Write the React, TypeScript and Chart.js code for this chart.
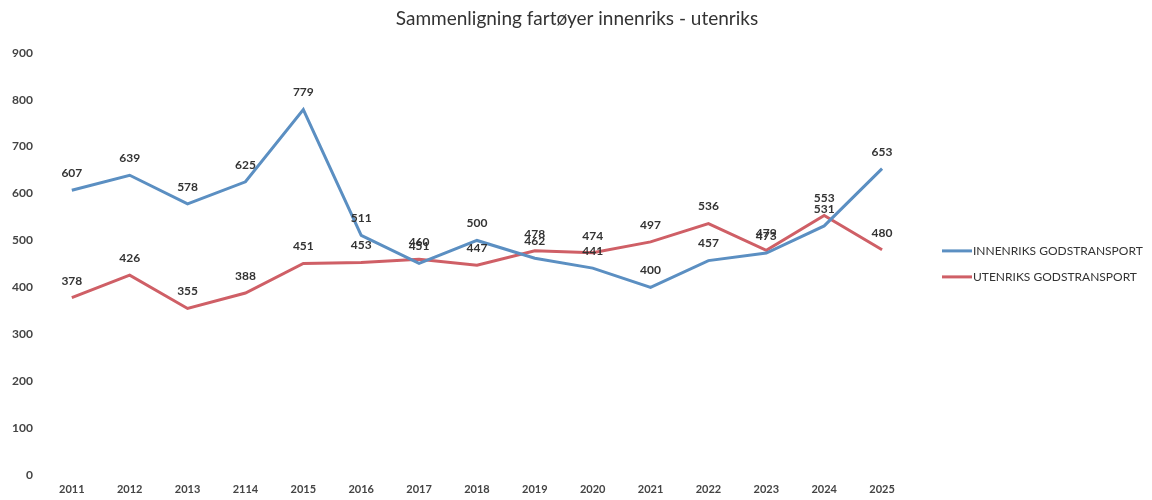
import React, { useEffect, useRef } from "react";
import { Chart, registerables } from "chart.js";

Chart.register(...registerables);

const years = ["2011", "2012", "2013", "2114", "2015", "2016", "2017", "2018", "2019", "2020", "2021", "2022", "2023", "2024", "2025"];
const innenriks = [607, 639, 578, 625, 779, 511, 451, 500, 462, 441, 400, 457, 473, 531, 653];
const utenriks = [378, 426, 355, 388, 451, 453, 460, 447, 478, 474, 497, 536, 479, 553, 480];
const yTicks = [0, 100, 200, 300, 400, 500, 600, 700, 800, 900];

const FONT = "Lato, 'Open Sans', sans-serif";

const valueLabels = {
  id: "valueLabels",
  afterDatasetsDraw(chart: any) {
    const ctx = chart.ctx;
    ctx.save();
    ctx.font = `bold 12px ${FONT}`;
    ctx.fillStyle = "#333333";
    ctx.textAlign = "center";
    ctx.textBaseline = "bottom";
    chart.data.datasets.forEach((ds: any, i: number) => {
      const meta = chart.getDatasetMeta(i);
      meta.data.forEach((pt: any, j: number) => {
        ctx.fillText(String(ds.data[j]), pt.x, pt.y - 11);
      });
    });
    ctx.restore();
  },
};

const sideLegend = {
  id: "sideLegend",
  afterDraw(chart: any) {
    const ctx = chart.ctx;
    const area = chart.chartArea;
    const x0 = area.right + 31;
    const midY = (area.top + area.bottom) / 2;
    const rowGap = 26;
    const n = chart.data.datasets.length;
    ctx.save();
    ctx.font = `12px ${FONT}`;
    ctx.textBaseline = "middle";
    ctx.textAlign = "left";
    chart.data.datasets.forEach((ds: any, i: number) => {
      const y = midY + (i - (n - 1) / 2) * rowGap;
      ctx.strokeStyle = ds.borderColor;
      ctx.lineWidth = 3;
      ctx.beginPath();
      ctx.moveTo(x0, y);
      ctx.lineTo(x0 + 30, y);
      ctx.stroke();
      ctx.fillStyle = "#333333";
      ctx.fillText(ds.label, x0 + 31, y);
    });
    ctx.restore();
  },
};

export default function App() {
  const ref = useRef<HTMLCanvasElement | null>(null);
  useEffect(() => {
    document.body.style.margin = "0";
    if (!ref.current) return;
    const chart = new Chart(ref.current, {
      type: "line",
      data: {
        labels: years,
        datasets: [
          {
            label: "INNENRIKS GODSTRANSPORT",
            data: innenriks,
            borderColor: "#5b8fc2",
            backgroundColor: "#5b8fc2",
            borderWidth: 3,
            pointRadius: 0,
            tension: 0,
          },
          {
            label: "UTENRIKS GODSTRANSPORT",
            data: utenriks,
            borderColor: "#cf5f66",
            backgroundColor: "#cf5f66",
            borderWidth: 3,
            pointRadius: 0,
            tension: 0,
          },
        ],
      },
      options: {
        animation: false,
        responsive: true,
        maintainAspectRatio: false,
        layout: { padding: { left: 2, right: 0, top: 0, bottom: 0 } },
        plugins: {
          title: {
            display: true,
            text: "Sammenligning fartøyer innenriks - utenriks",
            color: "#333333",
            font: { family: FONT, size: 19, weight: "normal" },
            padding: { top: 7, bottom: 23 },
          },
          legend: { display: false },
          tooltip: { enabled: false },
        },
        scales: {
          x: {
            offset: true,
            grid: { display: false, drawTicks: false },
            border: { display: false },
            ticks: {
              color: "#444444",
              font: { family: FONT, size: 11, weight: "bold" },
              padding: 8,
              maxRotation: 0,
            },
            afterFit(axis: any) {
              axis.height = 25;
            },
          },
          y: {
            min: 0,
            max: 900,
            grid: { display: false, drawTicks: false },
            border: { display: false },
            afterBuildTicks(axis: any) {
              axis.ticks = yTicks.map((v) => ({ value: v }));
            },
            ticks: {
              color: "#444444",
              font: { family: FONT, size: 12, weight: "bold" },
              padding: 10,
            },
          },
          legendSpace: {
            position: "right",
            display: true,
            grid: { display: false, drawTicks: false },
            border: { display: false },
            ticks: { display: false },
            afterFit(axis: any) {
              axis.width = 241;
            },
          },
        },
      },
      plugins: [valueLabels, sideLegend],
    });
    return () => chart.destroy();
  }, []);
  return (
    <div style={{ width: 1152, height: 500, position: "relative", background: "#fff" }}>
      <canvas ref={ref} />
    </div>
  );
}
